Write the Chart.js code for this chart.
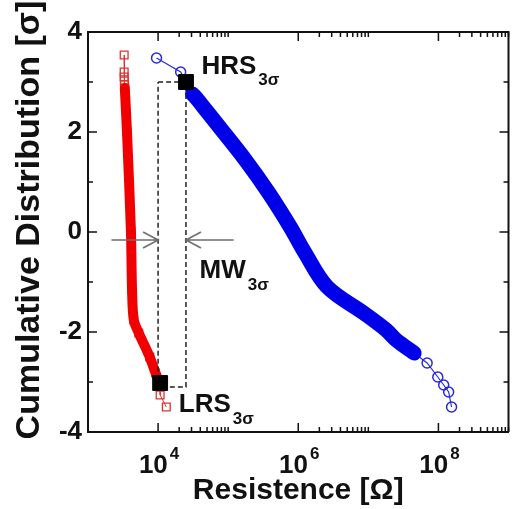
<!DOCTYPE html>
<html>
<head>
<meta charset="utf-8">
<script src="https://cdn.jsdelivr.net/npm/chart.js@4"></script>
<style>
html, body { margin: 0; padding: 0; background: #fff; overflow: hidden; }
#wrap { width: 520px; height: 509px; }
</style>
</head>
<body>
<div id="wrap"><canvas id="chart" width="520" height="509"></canvas></div>
<script>
// LRS (red squares): resistance [ohm] and sigma
const lrsR = [3.28e3, 3.28e3, 3.28e3, 3.3e3, 3.32e3, 3.35e3, 3.6e3, 4.1e3, 4.25e3, 4.5e3, 5.3e3, 7.6e3, 9.2e3, 1.07e4, 1.07e4, 1.31e4];
const lrsS = [3.54, 3.2, 3.1, 3.02, 2.95, 2.88, 2.0, 0.0, -1.16, -1.76, -2.02, -2.5, -2.82, -3.02, -3.26, -3.5];

// HRS (blue circles)
const hrsR = [9.5e3, 2.1e4, 2.5e4, 3.1e4, 3.6e4, 4.8e4, 7.5e4, 1.76e5, 3.8e5, 7.7e5, 1.25e6, 2.6e6, 8.6e6, 1.8e7, 2.5e7, 4.5e7, 6.9e7, 9.8e7, 1.19e8, 1.4e8, 1.54e8];
const hrsS = [3.48, 3.2, 3.0, 2.76, 2.66, 2.44, 2.1, 1.44, 0.78, 0.1, -0.42, -1.1, -1.62, -1.96, -2.16, -2.42, -2.62, -2.9, -3.06, -3.2, -3.5];

// 3 sigma points (LRS, HRS)
const r3sR = [1.07e4, 2.5e4];
const r3sS = [-3.02, 3.0];

// memory window box
const boxR = [1e4, 2.5e4, 2.5e4, 1e4, 1e4];
const boxS = [3.0, 3.0, -3.1, -3.1, 3.0];

const xTicks = [1e4, 1e6, 1e8];
const yTicks = [-4, -2, 0, 2, 4];

const FONT = "'Liberation Sans', Arial, sans-serif";
Chart.defaults.font.family = FONT;

const pts = (xs, ys) => xs.map((x, i) => ({ x: x, y: ys[i] }));

// extra drawing: frame, inward ticks, 10^n labels, y title, annotations
const decor = {
    id: 'decor',
    afterDraw(chart) {
        const ctx = chart.ctx;
        const a = chart.chartArea;
        const xs = chart.scales.x, ys = chart.scales.y;
        ctx.save();
        ctx.strokeStyle = '#111';
        ctx.lineWidth = 2;
        ctx.beginPath();
        ctx.moveTo(a.left, a.top);
        ctx.lineTo(a.right, a.top);
        ctx.lineTo(a.right, a.bottom);
        ctx.stroke();

        // y ticks, both sides
        ctx.lineWidth = 1.5;
        for (let v = -3; v <= 3; v++) {
            const y = ys.getPixelForValue(v);
            const len = yTicks.includes(v) ? 9 : 5;
            ctx.beginPath();
            ctx.moveTo(a.left, y); ctx.lineTo(a.left + len, y);
            ctx.moveTo(a.right, y); ctx.lineTo(a.right - len, y);
            ctx.stroke();
        }
        // x ticks, top and bottom
        const xt = [];
        xTicks.forEach(m => {
            xt.push([m, 9]);
            for (let k = 2; k <= 10; k++) xt.push([m * k, 5]);
        });
        xt.forEach(([v, len]) => {
            const x = xs.getPixelForValue(v);
            ctx.beginPath();
            ctx.moveTo(x, a.bottom); ctx.lineTo(x, a.bottom - len);
            ctx.moveTo(x, a.top); ctx.lineTo(x, a.top + len);
            ctx.stroke();
        });

        // x tick labels 10^n
        ctx.fillStyle = '#111';
        ctx.textBaseline = 'alphabetic';
        ctx.textAlign = 'left';
        xTicks.forEach(v => {
            const x = xs.getPixelForValue(v);
            const exp = String(Math.round(Math.log10(v)));
            ctx.font = 'bold 26px ' + FONT;
            const w1 = ctx.measureText('10').width;
            ctx.font = 'bold 17px ' + FONT;
            const w2 = ctx.measureText(exp).width;
            const x0 = x - (w1 + 2 + w2) / 2 + 1;
            ctx.font = 'bold 26px ' + FONT;
            ctx.fillText('10', x0, 473);
            ctx.font = 'bold 17px ' + FONT;
            ctx.fillText(exp, x0 + w1 + 2, 459);
        });

        // y title
        ctx.save();
        ctx.translate(30, 220);
        ctx.rotate(-Math.PI / 2);
        ctx.textAlign = 'center';
        ctx.textBaseline = 'middle';
        ctx.font = 'bold 34px ' + FONT;
        ctx.fillText('Cumulative Distribution [σ]', 0, 0);
        ctx.restore();

        // arrows
        const ay = ys.getPixelForValue(-0.16);
        ctx.strokeStyle = '#6e6e6e';
        ctx.lineWidth = 1.6;
        [[2.16e3, 1e4], [1.2e5, 2.5e4]].forEach(([r0, r1]) => {
            const x0 = xs.getPixelForValue(r0), x1 = xs.getPixelForValue(r1);
            const d = Math.sign(x1 - x0);
            ctx.beginPath();
            ctx.moveTo(x0, ay); ctx.lineTo(x1, ay);
            ctx.moveTo(x1 - d * 15, ay - 8); ctx.lineTo(x1, ay); ctx.lineTo(x1 - d * 15, ay + 8);
            ctx.stroke();
        });

        // labels with 3 sigma subscript
        ctx.fillStyle = '#111';
        ctx.textAlign = 'left';
        [['HRS', 4.15e4, 3.16, 11], ['MW', 3.9e4, -0.92, 12], ['LRS', 1.98e4, -3.6, 12]].forEach(([t, r, s, dy]) => {
            const x = xs.getPixelForValue(r), y = ys.getPixelForValue(s);
            ctx.font = 'bold 26px ' + FONT;
            ctx.fillText(t, x, y);
            const w = ctx.measureText(t).width;
            ctx.font = 'bold 17px ' + FONT;
            ctx.fillText('3σ', x + w + 2, y + dy);
        });
        ctx.restore();
    }
};

new Chart(document.getElementById('chart'), {
    type: 'scatter',
    data: {
        datasets: [
            {
                label: '3 sigma',
                data: pts(r3sR, r3sS),
                pointStyle: 'rect',
                pointRadius: 10.5,
                backgroundColor: '#000',
                borderColor: '#000',
                showLine: false
            },
            {
                label: 'MW box',
                data: pts(boxR, boxS),
                showLine: true,
                borderColor: '#222',
                borderWidth: 1.5,
                borderDash: [5, 3],
                pointRadius: 0
            },
            {
                label: 'HRS band',
                data: pts(hrsR.slice(3, 16), hrsS.slice(3, 16)),
                showLine: true,
                borderColor: '#0000e8',
                borderWidth: 15,
                borderCapStyle: 'round',
                borderJoinStyle: 'round',
                tension: 0.35,
                pointRadius: 0
            },
            {
                label: 'LRS band',
                data: pts(lrsR.slice(5, 14), lrsS.slice(5, 14)),
                showLine: true,
                borderColor: '#f00000',
                borderWidth: 10,
                borderCapStyle: 'round',
                borderJoinStyle: 'round',
                tension: 0.3,
                pointRadius: 0
            },
            {
                label: 'HRS',
                data: pts(hrsR, hrsS),
                showLine: true,
                borderColor: '#2b2bd6',
                borderWidth: 1.2,
                pointStyle: 'circle',
                pointRadius: 5,
                pointBorderWidth: 1.5,
                pointBorderColor: '#2b2bd6',
                pointBackgroundColor: 'rgba(0,0,0,0)'
            },
            {
                label: 'LRS',
                data: pts(lrsR, lrsS),
                showLine: true,
                borderColor: '#e23030',
                borderWidth: 1,
                pointStyle: 'rect',
                pointRadius: 5.5,
                pointBorderWidth: 1.3,
                pointBorderColor: '#e23030',
                pointBackgroundColor: 'rgba(0,0,0,0)'
            }
        ]
    },
    options: {
        responsive: false,
        animation: false,
        layout: { padding: { top: 32, right: 2, left: 0, bottom: 0 } },
        plugins: { legend: { display: false }, tooltip: { enabled: false } },
        scales: {
            x: {
                type: 'logarithmic',
                min: 1e3,
                max: 1e9,
                ticks: { display: false },
                grid: { display: false, drawTicks: false },
                border: { display: true, color: '#111', width: 2 },
                title: {
                    display: true,
                    text: 'Resistence [Ω]',
                    color: '#111',
                    padding: 0,
                    font: { size: 30, weight: 'bold' }
                },
                afterFit(s) { s.height = 77; }
            },
            y: {
                min: -4,
                max: 4,
                ticks: {
                    stepSize: 2,
                    color: '#111',
                    padding: 6,
                    font: { size: 26, weight: 'bold' }
                },
                grid: { display: false, drawTicks: false },
                border: { display: true, color: '#111', width: 2 },
                afterFit(s) { s.width = 88; }
            }
        }
    },
    plugins: [decor]
});
</script>
</body>
</html>
